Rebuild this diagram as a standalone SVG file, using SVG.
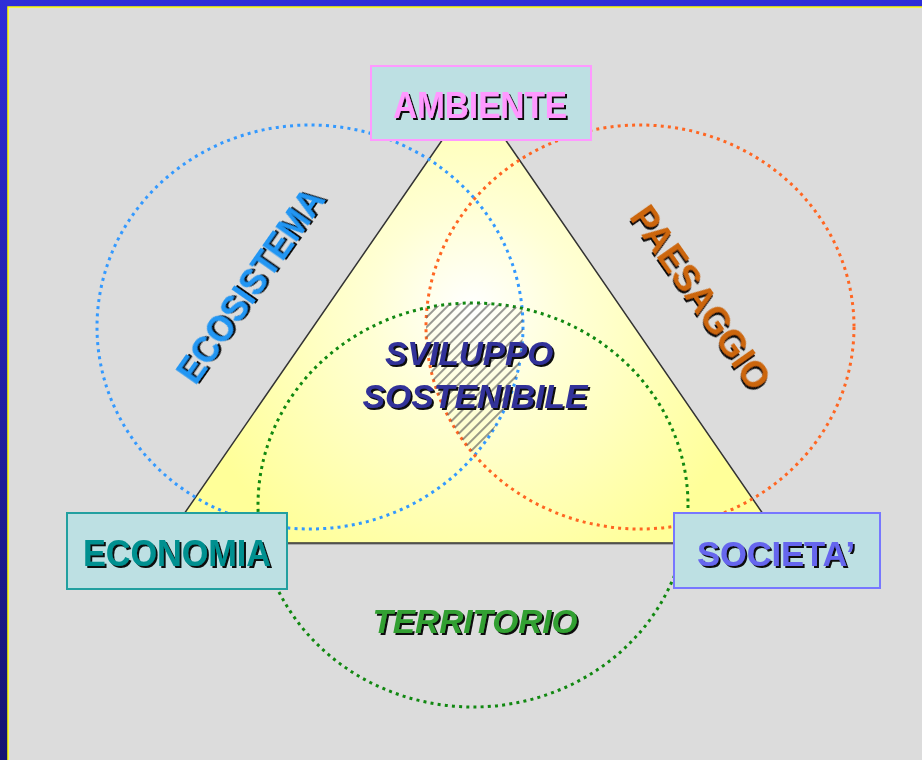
<svg xmlns="http://www.w3.org/2000/svg" width="922" height="760" viewBox="0 0 922 760">
<style>
.lbl{font-family:"Liberation Sans",Arial,sans-serif;font-weight:bold;text-anchor:middle;filter:url(#shadow)}
.it{font-style:italic}
.box{fill:#bde0e3;stroke-width:2}
.dot{fill:none;stroke-width:3;stroke-dasharray:3 4.2}
</style>
<defs>
<filter id="shadow" x="-10%" y="-20%" width="130%" height="150%">
<feDropShadow dx="2" dy="2" stdDeviation="0" flood-color="#111" flood-opacity="1"/>
</filter>
<linearGradient id="frame" x1="0" y1="0" x2="0" y2="1">
<stop offset="0" stop-color="#2e2ed8"/>
<stop offset="1" stop-color="#151570"/>
</linearGradient>
<radialGradient id="tri" gradientUnits="userSpaceOnUse" cx="472" cy="310" r="290">
<stop offset="0" stop-color="#ffffff"/>
<stop offset="0.35" stop-color="#ffffd5"/>
<stop offset="1" stop-color="#ffff99"/>
</radialGradient>
<pattern id="hatch" width="7" height="7" patternUnits="userSpaceOnUse" patternTransform="rotate(45)">
<line x1="1" y1="0" x2="1" y2="7" stroke="#555" stroke-width="1.2"/>
</pattern>
<clipPath id="cB"><ellipse cx="310" cy="327" rx="213" ry="202"/></clipPath>
<clipPath id="cO"><ellipse cx="640" cy="327" rx="214" ry="202"/></clipPath>
<clipPath id="cG"><ellipse cx="473" cy="505" rx="215" ry="202"/></clipPath>
</defs>
<rect width="922" height="760" fill="url(#frame)"/>
<rect x="8" y="7" width="914" height="753" fill="#dcdcdc"/>
<path d="M8,760 V7 H922" fill="none" stroke="#ffff00" stroke-width="1.5"/>

<g id="triangle">
<polygon points="475,96 166,545 785,545" fill="#888" opacity="0.6"/>
<polygon points="474,94 164,543 783,543" fill="url(#tri)" stroke="#333" stroke-width="1.5"/>
</g>

<g id="connectors">
<ellipse id="ecosistema-circle" class="dot" cx="310" cy="327" rx="213" ry="202" stroke="#3399ff"/>
<ellipse id="paesaggio-circle" class="dot" cx="640" cy="327" rx="214" ry="202" stroke="#ff6622"/>
<ellipse id="territorio-circle" class="dot" cx="473" cy="505" rx="215" ry="202" stroke="#118811"/>
</g>

<g id="hatch-area" clip-path="url(#cG)">
<g clip-path="url(#cO)">
<rect x="380" y="280" width="180" height="200" fill="url(#hatch)" clip-path="url(#cB)"/>
</g>
</g>

<g id="sviluppo">
<text class="lbl it" x="469" y="365" font-size="33" fill="#333399" textLength="168" lengthAdjust="spacingAndGlyphs">SVILUPPO</text>
<text class="lbl it" x="475" y="408" font-size="33" fill="#333399" textLength="225" lengthAdjust="spacingAndGlyphs">SOSTENIBILE</text>
</g>

<g id="ecosistema" transform="translate(251,286) rotate(-55)">
<text class="lbl" x="0" y="12" font-size="36" fill="#2196f3" textLength="228" lengthAdjust="spacingAndGlyphs">ECOSISTEMA</text>
</g>

<g id="paesaggio" transform="translate(700,298) rotate(55)">
<text class="lbl" x="0" y="12" font-size="36" fill="#cc6611" textLength="215" lengthAdjust="spacingAndGlyphs">PAESAGGIO</text>
</g>

<g id="territorio">
<text class="lbl it" x="475" y="633" font-size="34" fill="#33a033" textLength="205" lengthAdjust="spacingAndGlyphs">TERRITORIO</text>
</g>

<g id="ambiente">
<rect class="box" x="371" y="66" width="220" height="74" stroke="#ff99ff"/>
<text class="lbl" x="480" y="118" font-size="37" fill="#ff99ff" textLength="174" lengthAdjust="spacingAndGlyphs">AMBIENTE</text>
</g>

<g id="economia">
<rect class="box" x="67" y="513" width="220" height="76" stroke="#22a0a0"/>
<text class="lbl" x="177" y="566" font-size="37" fill="#009090" textLength="188" lengthAdjust="spacingAndGlyphs">ECONOMIA</text>
</g>

<g id="societa">
<rect class="box" x="674" y="513" width="206" height="75" stroke="#7777ff"/>
<text class="lbl" x="776" y="566" font-size="35" fill="#6666ee" textLength="158" lengthAdjust="spacingAndGlyphs">SOCIETA’</text>
</g>
</svg>
